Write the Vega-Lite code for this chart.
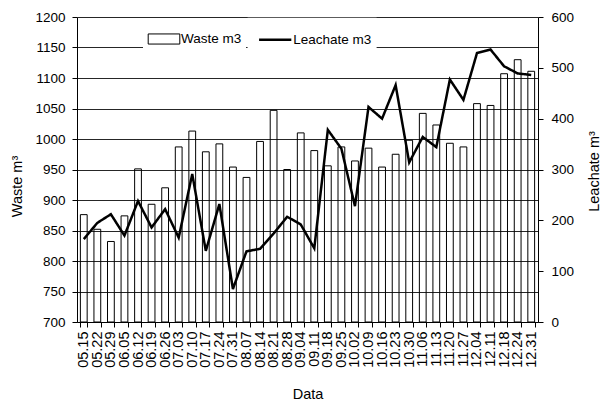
{
  "$schema": "https://vega.github.io/schema/vega-lite/v6.json",
  "width": 461,
  "height": 305,
  "autosize": {"type": "none"},
  "padding": {"left": 77, "top": 17, "right": 65, "bottom": 79},
  "background": "white",
  "config": {
    "font": "Liberation Sans",
    "view": {"stroke": null},
    "axis": {
      "labelColor": "black",
      "titleColor": "black",
      "domainColor": "black",
      "tickColor": "black",
      "labelFontSize": 13.5,
      "titleFontSize": 14.5,
      "titleFontWeight": "normal",
      "labelFont": "Liberation Sans",
      "titleFont": "Liberation Sans"
    },
    "legend": {"labelFont": "Liberation Sans", "labelColor": "black", "labelFontSize": 13.5}
  },
  "data": {
    "values": [
      {"date": "05.15", "waste": 876, "leachate": 163},
      {"date": "05.22", "waste": 852, "leachate": 195},
      {"date": "05.29", "waste": 832, "leachate": 212},
      {"date": "06.05", "waste": 874, "leachate": 170},
      {"date": "06.12", "waste": 951, "leachate": 238},
      {"date": "06.19", "waste": 893, "leachate": 186},
      {"date": "06.26", "waste": 920, "leachate": 222},
      {"date": "07.03", "waste": 987, "leachate": 166},
      {"date": "07.10", "waste": 1013, "leachate": 291},
      {"date": "07.17", "waste": 979, "leachate": 140},
      {"date": "07.24", "waste": 992, "leachate": 232},
      {"date": "07.31", "waste": 954, "leachate": 65},
      {"date": "08.07", "waste": 937, "leachate": 139},
      {"date": "08.14", "waste": 996, "leachate": 144},
      {"date": "08.21", "waste": 1047, "leachate": 174},
      {"date": "08.28", "waste": 950, "leachate": 207},
      {"date": "09.04", "waste": 1010, "leachate": 192},
      {"date": "09.11", "waste": 981, "leachate": 145},
      {"date": "09.18", "waste": 956, "leachate": 378},
      {"date": "09.25", "waste": 987, "leachate": 341},
      {"date": "10.02", "waste": 964, "leachate": 228},
      {"date": "10.09", "waste": 985, "leachate": 423},
      {"date": "10.16", "waste": 954, "leachate": 400},
      {"date": "10.23", "waste": 975, "leachate": 466},
      {"date": "10.30", "waste": 998, "leachate": 314},
      {"date": "11.06", "waste": 1042, "leachate": 364},
      {"date": "11.13", "waste": 1023, "leachate": 344},
      {"date": "11.20", "waste": 993, "leachate": 477},
      {"date": "11.27", "waste": 987, "leachate": 437},
      {"date": "12.04", "waste": 1058, "leachate": 529},
      {"date": "12.11", "waste": 1055, "leachate": 536},
      {"date": "12.18", "waste": 1107, "leachate": 503},
      {"date": "12.24", "waste": 1130, "leachate": 489},
      {"date": "12.31", "waste": 1111, "leachate": 486}
    ]
  },
  "encoding": {
    "x": {
      "field": "date",
      "type": "nominal",
      "sort": null,
      "scale": {"paddingInner": 0.5, "paddingOuter": 0.25},
      "axis": {
        "title": "Data",
        "labelAngle": -90,
        "labelFontSize": 14.5,
        "labelOverlap": false,
        "tickBand": "extent",
        "tickSize": 5,
        "labelPadding": 4,
        "titleY": 76,
        "titleBaseline": "alphabetic",
        "grid": false
      }
    }
  },
  "layer": [
    {
      "mark": {"type": "bar", "fill": "transparent", "strokeWidth": 1},
      "encoding": {
        "y": {
          "field": "waste",
          "type": "quantitative",
          "scale": {"domain": [700, 1200], "zero": false, "nice": false},
          "axis": {
            "title": "Waste m³",
            "format": "d",
            "values": [700, 750, 800, 850, 900, 950, 1000, 1050, 1100, 1150, 1200],
            "grid": true,
            "gridColor": "black",
            "gridWidth": 1,
            "gridOpacity": 0.85,
            "tickSize": 5,
            "labelPadding": 7,
            "titleAngle": 270,
            "titleX": -56,
            "titleY": 169,
            "titleAlign": "center",
            "titleBaseline": "alphabetic"
          }
        },
        "y2": {"datum": 700},
        "stroke": {
          "datum": "Waste m3",
          "type": "nominal",
          "scale": {"range": ["black"]},
          "legend": {
            "title": null,
            "orient": "none",
            "legendX": 66,
            "legendY": 1,
            "padding": 4.5,
            "fillColor": "white",
            "strokeColor": null,
            "labelOffset": 0.5,
            "symbolType": "M-1,-0.32H1V0.32H-1Z",
            "symbolSize": 1000,
            "symbolFillColor": "white",
            "symbolStrokeColor": "black",
            "symbolStrokeWidth": 1
          }
        }
      }
    },
    {
      "mark": {"type": "line", "stroke": "black", "strokeWidth": 2.5},
      "encoding": {
        "y": {
          "field": "leachate",
          "type": "quantitative",
          "scale": {"domain": [0, 600], "nice": false},
          "axis": {
            "orient": "right",
            "title": "Leachate m³",
            "values": [0, 100, 200, 300, 400, 500, 600],
            "grid": false,
            "tickSize": 5,
            "labelPadding": 8,
            "titleAngle": 270,
            "titleX": 60,
            "titleY": 154,
            "titleAlign": "center",
            "titleBaseline": "alphabetic"
          }
        },
        "strokeDash": {
          "datum": "Leachate m3",
          "type": "nominal",
          "scale": {"range": [[1, 0]]},
          "legend": {
            "title": null,
            "orient": "none",
            "legendX": 170.6,
            "legendY": 0.7,
            "padding": 4.5,
            "fillColor": "white",
            "strokeColor": null,
            "labelOffset": 0.5,
            "symbolOffset": 5.6,
            "symbolType": "stroke",
            "symbolSize": 1040,
            "symbolStrokeColor": "black",
            "symbolStrokeWidth": 2.5
          }
        }
      }
    }
  ],
  "resolve": {"scale": {"y": "independent"}, "legend": {"stroke": "independent", "strokeDash": "independent"}}
}
